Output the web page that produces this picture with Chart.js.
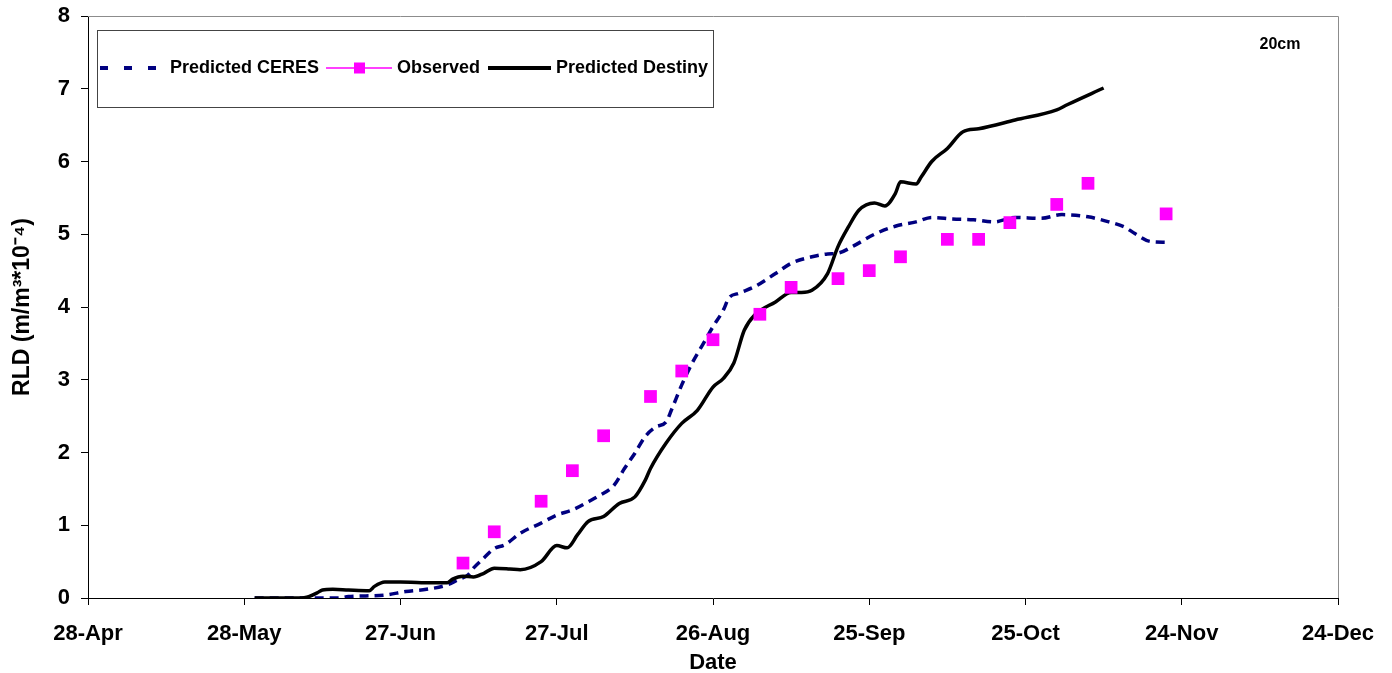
<!DOCTYPE html>
<html>
<head>
<meta charset="utf-8">
<script src="https://cdn.jsdelivr.net/npm/chart.js@4/dist/chart.umd.min.js"></script>
<style>
  html, body { margin: 0; padding: 0; background: #ffffff; }
  canvas { display: block; }
</style>
</head>
<body>
<canvas id="rld" width="1392" height="673"></canvas>
<script>
// Root length density at 20 cm depth; dates are day-of-year (non-leap year)
const tickDays = [118, 148, 178, 208, 238, 268, 298, 328, 358];
const tickLabels = ['28-Apr', '28-May', '27-Jun', '27-Jul', '26-Aug', '25-Sep', '25-Oct', '24-Nov', '24-Dec'];
const yTickValues = [0, 1, 2, 3, 4, 5, 6, 7, 8];

const ceresDays = [150, 159, 166, 168, 175, 179, 183, 187, 189, 191, 192, 194, 196, 198, 201, 205, 208, 211, 214, 216,
  219, 221, 223, 225, 227, 229, 230, 232, 234, 236, 238, 240, 241, 243, 246, 250, 253, 257, 260, 262,
  265, 269, 273, 277, 280, 284, 288, 292, 296, 301, 305, 310, 314, 317, 319, 322, 325];
const ceresValues = [0, 0, 0, 0.02, 0.04, 0.09, 0.12, 0.18, 0.25, 0.32, 0.41, 0.55, 0.68, 0.73, 0.89, 1.03, 1.14, 1.21, 1.32, 1.40,
  1.55, 1.78, 1.99, 2.22, 2.35, 2.42, 2.58, 2.93, 3.23, 3.48, 3.73, 3.96, 4.12, 4.19, 4.28, 4.46, 4.60, 4.69, 4.73, 4.74,
  4.84, 5.00, 5.11, 5.17, 5.23, 5.21, 5.20, 5.17, 5.23, 5.22, 5.27, 5.24, 5.17, 5.10, 5.01, 4.90, 4.89];

const observedDays = [190, 196, 205, 211, 217, 226, 232, 238, 247, 253, 262, 268, 274, 283, 289, 295, 304, 310, 325];
const observedValues = [0.48, 0.91, 1.33, 1.75, 2.23, 2.77, 3.12, 3.55, 3.90, 4.27, 4.39, 4.50, 4.69, 4.93, 4.93, 5.16, 5.41, 5.70, 5.28];

const destinyDays = [150, 154, 159, 160, 162, 163, 165, 168, 172, 173, 175, 178, 182, 187, 188, 190, 192, 194, 196, 199,
  201, 205, 208, 210, 212, 214, 217, 220, 223, 225, 226, 229, 232, 235, 238, 240, 242, 244, 246, 250,
  253, 255, 257, 260, 262, 264, 266, 269, 271, 273, 274, 277, 278, 280, 283, 286, 289, 296, 304, 306, 313];
const destinyValues = [0, 0, 0, 0.01, 0.07, 0.11, 0.12, 0.11, 0.10, 0.16, 0.22, 0.22, 0.21, 0.21, 0.26, 0.30, 0.29, 0.34, 0.41, 0.40,
  0.39, 0.50, 0.72, 0.69, 0.87, 1.05, 1.12, 1.30, 1.39, 1.62, 1.78, 2.13, 2.40, 2.58, 2.90, 3.02, 3.23, 3.68, 3.89, 4.07,
  4.20, 4.20, 4.23, 4.46, 4.83, 5.10, 5.33, 5.43, 5.39, 5.56, 5.72, 5.69, 5.79, 6.00, 6.18, 6.41, 6.45, 6.57, 6.71, 6.78, 7.01];

const depthLabel = '20cm';

const toPoints = (days, values) => days.map((d, i) => ({ x: d, y: values[i] }));
const FONT = "'Liberation Sans', Arial, sans-serif";

// Frame on the top and right sides of the plot area
const framePlugin = {
  id: 'frame',
  afterDatasetsDraw(chart) {
    const { ctx, chartArea: a } = chart;
    ctx.save();
    ctx.strokeStyle = '#8c8c8c';
    ctx.lineWidth = 1;
    ctx.beginPath();
    ctx.moveTo(a.left, a.top + 0.5);
    ctx.lineTo(a.right + 0.5, a.top + 0.5);
    ctx.lineTo(a.right + 0.5, a.bottom);
    ctx.stroke();
    ctx.restore();
  }
};

// Boxed legend with line samples and the depth note
const legendBoxPlugin = {
  id: 'legendBox',
  afterDraw(chart) {
    const { ctx } = chart;
    const ds = chart.data.datasets;
    ctx.save();
    ctx.fillStyle = '#ffffff';
    ctx.fillRect(97, 30, 616, 77);
    ctx.strokeStyle = '#444444';
    ctx.lineWidth = 1;
    ctx.strokeRect(97.5, 30.5, 616, 77);

    const y = 68;
    ctx.font = 'bold 18px ' + FONT;
    ctx.textBaseline = 'middle';
    ctx.fillStyle = '#000000';

    // CERES sample
    ctx.strokeStyle = ds[0].borderColor;
    ctx.lineWidth = 4;
    ctx.setLineDash([8, 16]);
    ctx.beginPath(); ctx.moveTo(100, y); ctx.lineTo(158, y); ctx.stroke();
    ctx.setLineDash([]);
    ctx.fillText(ds[0].label, 170, y);

    // Observed sample
    ctx.strokeStyle = ds[1].backgroundColor;
    ctx.lineWidth = 1.5;
    ctx.beginPath(); ctx.moveTo(326, y); ctx.lineTo(392, y); ctx.stroke();
    ctx.fillStyle = ds[1].backgroundColor;
    ctx.fillRect(354, y - 5.5, 11, 11);
    ctx.fillStyle = '#000000';
    ctx.fillText(ds[1].label, 397, y);

    // Destiny sample
    ctx.strokeStyle = ds[2].borderColor;
    ctx.lineWidth = 4;
    ctx.beginPath(); ctx.moveTo(488, y); ctx.lineTo(551, y); ctx.stroke();
    ctx.fillText(ds[2].label, 556, y);

    ctx.font = 'bold 16px ' + FONT;
    ctx.textAlign = 'center';
    ctx.fillText(depthLabel, 1280, 45);
    ctx.restore();
  }
};

new Chart(document.getElementById('rld'), {
  type: 'line',
  data: {
    datasets: [
      {
        label: 'Predicted CERES',
        data: toPoints(ceresDays, ceresValues),
        borderColor: '#000080',
        borderWidth: 3.5,
        borderDash: [9, 6],
        pointRadius: 0,
        fill: false,
        cubicInterpolationMode: 'monotone',
        order: 2
      },
      {
        label: 'Observed',
        data: toPoints(observedDays, observedValues),
        showLine: false,
        pointStyle: 'rect',
        pointRadius: 9,
        pointBackgroundColor: '#ff00ff',
        pointBorderWidth: 0,
        backgroundColor: '#ff00ff',
        borderColor: '#ff00ff',
        order: 0
      },
      {
        label: 'Predicted Destiny',
        data: toPoints(destinyDays, destinyValues),
        borderColor: '#000000',
        borderWidth: 3.5,
        pointRadius: 0,
        fill: false,
        cubicInterpolationMode: 'monotone',
        order: 1
      }
    ]
  },
  options: {
    responsive: false,
    animation: false,
    devicePixelRatio: 1,
    layout: { padding: { left: 0, right: 54, top: 16, bottom: 0 } },
    plugins: { legend: { display: false }, tooltip: { enabled: false } },
    scales: {
      x: {
        type: 'linear',
        min: tickDays[0],
        max: tickDays[tickDays.length - 1],
        afterBuildTicks: (s) => { s.ticks = tickDays.map(v => ({ value: v })); },
        afterFit: (s) => { s.height = 75; s.paddingLeft = 0; s.paddingRight = 0; },
        border: { display: true, color: '#000000', width: 1 },
        grid: { drawOnChartArea: false, drawTicks: true, tickLength: 7, color: '#000000' },
        ticks: {
          color: '#000000',
          font: { family: FONT, size: 22, weight: 'bold' },
          padding: 16,
          maxRotation: 0,
          autoSkip: false,
          callback: (v) => tickLabels[tickDays.indexOf(v)]
        },
        title: {
          display: true,
          text: 'Date',
          color: '#000000',
          font: { family: FONT, size: 22, weight: 'bold' },
          padding: { top: 0, bottom: -3 }
        }
      },
      y: {
        min: 0,
        max: 8,
        afterBuildTicks: (s) => { s.ticks = yTickValues.map(v => ({ value: v })); },
        afterFit: (s) => { s.width = 88; s.paddingTop = 0; s.paddingBottom = 0; },
        border: { display: true, color: '#000000', width: 1 },
        grid: { drawOnChartArea: false, drawTicks: true, tickLength: 7, color: '#000000' },
        ticks: {
          color: '#000000',
          font: { family: FONT, size: 22, weight: 'bold' },
          padding: 11
        },
        title: {
          display: true,
          text: 'RLD (m/m³*10⁻⁴)',
          color: '#000000',
          font: { family: FONT, size: 23, weight: 'bold' },
          padding: { top: 9, bottom: 0 }
        }
      }
    }
  },
  plugins: [framePlugin, legendBoxPlugin]
});
</script>
</body>
</html>
